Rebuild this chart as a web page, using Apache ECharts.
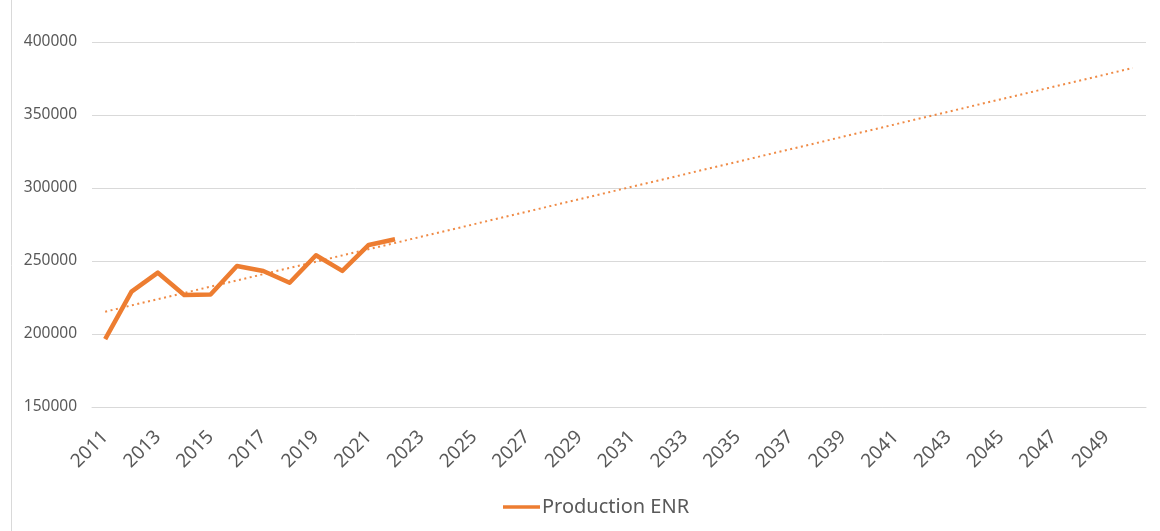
<!DOCTYPE html>
<html>
<head>
<meta charset="utf-8">
<script src="https://cdn.jsdelivr.net/npm/echarts@6/dist/echarts.min.js"></script>
<style>
  html, body { margin: 0; padding: 0; background: #fff; }
  #chart { width: 1160px; height: 531px; }
</style>
</head>
<body>
<div id="chart"></div>
<script>
// Years on the category axis (2011 to 2050)
const years = [];
for (let y = 2011; y <= 2050; y++) years.push(String(y));

// Renewable energy production, 2011-2022
const production = [196500, 229000, 242000, 226700, 227000, 246600, 243200, 235100, 253900, 243200, 261000, 264900];

// Linear trend endpoints (first and last year of the axis)
const trendYears = ['2011', '2050'];
const trendValues = [215300, 382200];

// Value axis range
const yMin = 150000, yMax = 400000, yStep = 50000;

const orange = '#ED7D31';
const textColor = '#595959';
const font = 'Noto Sans';

const chart = echarts.init(document.getElementById('chart'));
chart.setOption({
  animation: false,
  backgroundColor: '#ffffff',
  textStyle: { fontFamily: font },
  grid: { left: 92, right: 14, top: 42, bottom: 124, containLabel: false },
  legend: {
    top: 492,
    left: 498,
    data: ['Production ENR'],
    icon: 'path://M0,0 L40,0 L40,4 L0,4 Z',
    itemWidth: 37,
    itemHeight: 4,
    itemGap: 4,
    textStyle: { color: textColor, fontSize: 20, fontFamily: font, padding: [0, 0, 0, -3] }
  },
  xAxis: {
    type: 'category',
    data: years,
    boundaryGap: true,
    axisLine: { show: true, lineStyle: { color: '#d9d9d9' } },
    axisTick: { show: false },
    axisLabel: {
      interval: 1,
      rotate: 45,
      color: textColor,
      fontSize: 19,
      fontFamily: font,
      margin: 27
    },
    splitLine: { show: false }
  },
  yAxis: {
    type: 'value',
    min: yMin,
    max: yMax,
    interval: yStep,
    axisLine: { show: false },
    axisTick: { show: false },
    axisLabel: {
      color: textColor,
      fontSize: 15.5,
      fontFamily: font,
      margin: 15,
      formatter: (v) => String(v)
    },
    splitLine: { lineStyle: { color: '#d9d9d9', width: 1 } }
  },
  graphic: [{
    type: 'line',
    shape: { x1: 11.5, y1: 0, x2: 11.5, y2: 531 },
    style: { stroke: '#d9d9d9', lineWidth: 1 }
  }],
  series: [{
    name: 'Production ENR',
    type: 'line',
    data: production,
    symbol: 'none',
    lineStyle: { color: orange, width: 4.5, join: 'round' },
    itemStyle: { color: orange },
    z: 3,
    markLine: {
      silent: true,
      symbol: 'none',
      label: { show: false },
      lineStyle: { color: orange, type: [2, 3.5], width: 2, opacity: 0.9 },
      data: [[
        { coord: [trendYears[0], trendValues[0]] },
        { coord: [trendYears[1], trendValues[1]] }
      ]]
    }
  }]
});
</script>
</body>
</html>
